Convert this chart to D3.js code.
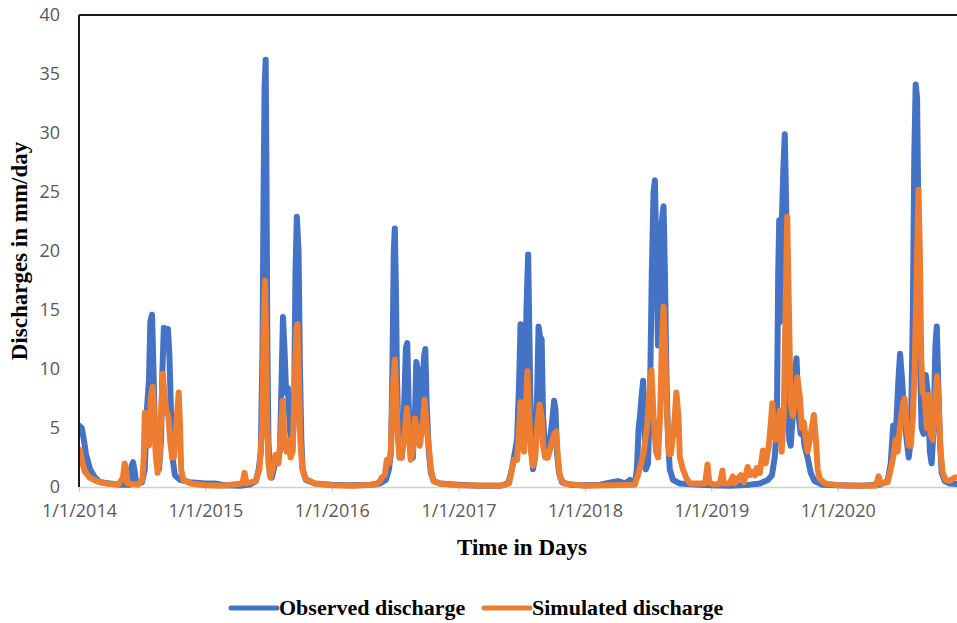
<!DOCTYPE html>
<html>
<head>
<meta charset="utf-8">
<script src="https://cdn.jsdelivr.net/npm/d3@7"></script>
<style>
  html, body { margin: 0; padding: 0; background: #ffffff; }
  svg { display: block; }
</style>
</head>
<body>
<svg id="chart" width="957" height="623"></svg>
<script>
// Daily discharge, observed vs simulated (mm/day)
const observed = [
  ["2014-01-01",5.2],["2014-01-09",5.0],["2014-01-15",4.0],["2014-01-21",2.8],["2014-02-02",1.5],
  ["2014-02-16",0.8],["2014-03-03",0.4],["2014-03-31",0.3],["2014-04-29",0.2],["2014-05-28",0.2],
  ["2014-06-02",1.8],["2014-06-06",2.1],["2014-06-10",1.5],["2014-06-15",0.3],["2014-07-02",0.4],
  ["2014-07-10",1.5],["2014-07-16",6.5],["2014-07-22",9],["2014-07-26",14],["2014-07-31",14.6],
  ["2014-08-04",10],["2014-08-08",5],["2014-08-14",2],["2014-08-20",1.5],["2014-08-26",4],
  ["2014-08-30",10],["2014-09-03",13.5],["2014-09-09",13.0],["2014-09-15",13.4],["2014-09-19",11.2],
  ["2014-09-24",6],["2014-09-28",2.5],["2014-10-05",1.0],["2014-10-20",0.6],["2014-11-17",0.4],
  ["2015-01-01",0.3],["2015-01-28",0.3],["2015-02-26",0.15],["2015-04-11",0.1],["2015-05-09",0.2],
  ["2015-05-27",0.5],["2015-06-04",1.5],["2015-06-10",3],["2015-06-15",12],["2015-06-18",25],
  ["2015-06-21",34],["2015-06-24",36.2],["2015-06-26",28],["2015-06-29",12],["2015-07-02",4],
  ["2015-07-06",1],["2015-07-12",0.8],["2015-07-21",2],["2015-07-29",2.5],["2015-08-04",3],
  ["2015-08-09",9],["2015-08-13",14.4],["2015-08-17",12],["2015-08-22",8],["2015-08-27",8.4],
  ["2015-09-02",5],["2015-09-08",3],["2015-09-14",6],["2015-09-18",18],["2015-09-22",22.9],
  ["2015-09-27",20],["2015-10-01",10],["2015-10-05",4],["2015-10-09",1.5],["2015-10-18",0.6],
  ["2015-11-13",0.3],["2016-01-01",0.2],["2016-02-22",0.15],["2016-04-20",0.2],["2016-05-19",0.3],
  ["2016-06-05",0.6],["2016-06-14",1.5],["2016-06-20",3],["2016-06-24",10],["2016-06-28",20],
  ["2016-07-01",21.9],["2016-07-04",17],["2016-07-07",9.5],["2016-07-11",5],["2016-07-15",2.5],
  ["2016-07-21",2.5],["2016-07-27",6],["2016-08-02",11.8],["2016-08-06",12.2],["2016-08-10",7],
  ["2016-08-16",2.5],["2016-08-22",2.5],["2016-08-28",6],["2016-09-01",10.6],["2016-09-05",10],
  ["2016-09-11",5],["2016-09-17",6],["2016-09-23",11.0],["2016-09-27",11.7],["2016-10-01",7],
  ["2016-10-07",3],["2016-10-13",1.2],["2016-10-21",0.5],["2016-11-08",0.3],["2017-01-01",0.2],
  ["2017-03-04",0.1],["2017-05-01",0.1],["2017-05-24",0.3],["2017-06-02",1.2],["2017-06-10",2.5],
  ["2017-06-19",4],["2017-06-25",9],["2017-06-29",13.8],["2017-07-03",11],["2017-07-08",5],
  ["2017-07-12",6],["2017-07-16",15],["2017-07-21",19.7],["2017-07-25",12],["2017-07-29",4],
  ["2017-08-04",1.5],["2017-08-10",2.5],["2017-08-16",8],["2017-08-20",13.6],["2017-08-24",12.8],
  ["2017-08-29",12.5],["2017-09-02",6],["2017-09-08",3],["2017-09-13",2.5],["2017-09-22",4],
  ["2017-09-28",5.5],["2017-10-04",7.3],["2017-10-08",6.5],["2017-10-12",3],["2017-10-18",1.2],
  ["2017-10-27",0.4],["2017-11-19",0.2],["2018-01-01",0.15],["2018-02-13",0.2],["2018-03-20",0.4],
  ["2018-04-06",0.5],["2018-04-27",0.3],["2018-05-11",0.6],["2018-05-25",0.3],["2018-05-31",1.5],
  ["2018-06-05",5],["2018-06-09",6],["2018-06-13",7.5],["2018-06-18",9],["2018-06-22",5],
  ["2018-06-26",1.5],["2018-07-02",2],["2018-07-08",8],["2018-07-13",18],["2018-07-18",25],
  ["2018-07-22",26],["2018-07-26",20],["2018-07-31",12],["2018-08-06",15],["2018-08-10",22.3],
  ["2018-08-16",23.8],["2018-08-20",18],["2018-08-24",10],["2018-08-29",4],["2018-09-03",1.5],
  ["2018-09-12",0.6],["2018-10-02",0.3],["2018-11-29",0.2],["2019-01-01",0.15],["2019-02-23",0.1],
  ["2019-04-22",0.2],["2019-05-21",0.3],["2019-06-13",0.6],["2019-06-25",1.0],["2019-07-03",2.5],
  ["2019-07-09",5],["2019-07-13",18],["2019-07-16",22.6],["2019-07-19",14],["2019-07-23",22],
  ["2019-07-28",27],["2019-08-01",29.9],["2019-08-05",24],["2019-08-09",10],["2019-08-14",4],
  ["2019-08-18",3.5],["2019-08-24",6],["2019-08-30",9.5],["2019-09-04",10.9],["2019-09-10",6],
  ["2019-09-16",4.5],["2019-09-22",5],["2019-09-27",3.5],["2019-10-06",2.5],["2019-10-15",1.2],
  ["2019-10-26",0.5],["2019-11-16",0.2],["2020-01-01",0.15],["2020-03-05",0.1],["2020-05-01",0.2],
  ["2020-05-24",0.5],["2020-06-02",2],["2020-06-09",5.2],["2020-06-16",4],["2020-06-24",9],
  ["2020-06-29",11.3],["2020-07-05",9],["2020-07-11",6],["2020-07-18",4],["2020-07-24",2.5],
  ["2020-07-30",4],["2020-08-05",15],["2020-08-09",28],["2020-08-13",34.1],["2020-08-17",33],
  ["2020-08-22",20],["2020-08-26",9.9],["2020-08-30",5],["2020-09-05",4.5],["2020-09-11",9.5],
  ["2020-09-17",8],["2020-09-23",3],["2020-09-28",2],["2020-10-04",5],["2020-10-09",12],
  ["2020-10-13",13.6],["2020-10-17",9],["2020-10-22",4],["2020-10-27",1.2],["2020-11-05",0.5],
  ["2020-11-19",0.3],["2020-12-31",0.2]
];

const simulated = [
  ["2014-01-01",3.2],["2014-01-05",3.0],["2014-01-11",2.0],["2014-01-18",1.3],["2014-02-01",0.8],
  ["2014-02-20",0.5],["2014-03-20",0.3],["2014-04-25",0.2],["2014-05-08",0.8],["2014-05-13",2.0],
  ["2014-05-17",1.5],["2014-05-21",0.3],["2014-06-20",0.2],["2014-07-03",0.6],["2014-07-07",2.5],
  ["2014-07-10",6.3],["2014-07-14",6.0],["2014-07-18",4.0],["2014-07-22",3.5],["2014-07-27",7.5],
  ["2014-08-02",8.5],["2014-08-06",6],["2014-08-10",3],["2014-08-16",1.2],["2014-08-22",2.5],
  ["2014-08-27",7],["2014-08-31",9.6],["2014-09-04",8],["2014-09-10",6.5],["2014-09-16",6.0],
  ["2014-09-21",4],["2014-09-27",2.5],["2014-10-02",2.5],["2014-10-08",5],["2014-10-16",8.0],
  ["2014-10-20",5],["2014-10-23",1.5],["2014-10-29",0.6],["2014-11-20",0.3],["2014-12-31",0.15],
  ["2015-02-15",0.1],["2015-04-18",0.3],["2015-04-24",1.2],["2015-04-30",0.3],["2015-05-26",0.5],
  ["2015-06-06",1.5],["2015-06-14",5],["2015-06-18",13],["2015-06-22",17.5],["2015-06-25",13],
  ["2015-06-28",6],["2015-07-02",2],["2015-07-08",0.8],["2015-07-14",1.5],["2015-07-22",2.7],
  ["2015-07-31",2],["2015-08-06",4],["2015-08-12",7.3],["2015-08-17",4],["2015-08-23",3],
  ["2015-08-29",4],["2015-09-04",2.5],["2015-09-10",3],["2015-09-15",8],["2015-09-21",13.5],
  ["2015-09-24",13.8],["2015-09-28",9],["2015-10-02",4],["2015-10-08",1.5],["2015-10-17",0.7],
  ["2015-11-12",0.3],["2015-12-31",0.15],["2016-03-01",0.1],["2016-05-07",0.2],["2016-05-19",0.5],
  ["2016-05-24",0.8],["2016-06-02",1.0],["2016-06-08",2.3],["2016-06-14",2.0],["2016-06-19",3],
  ["2016-06-25",8],["2016-07-01",10.8],["2016-07-05",8],["2016-07-10",4],["2016-07-15",2.5],
  ["2016-07-21",2.5],["2016-07-27",4],["2016-08-05",6.7],["2016-08-10",4.5],["2016-08-16",2.3],
  ["2016-08-22",3],["2016-08-28",5.8],["2016-09-05",4.5],["2016-09-11",3.5],["2016-09-20",5.5],
  ["2016-09-25",7.4],["2016-10-01",5],["2016-10-07",3.5],["2016-10-13",1.5],["2016-10-21",0.5],
  ["2016-11-08",0.3],["2016-12-31",0.15],["2017-05-01",0.1],["2017-05-27",0.3],["2017-06-04",1.5],
  ["2017-06-10",2.3],["2017-06-19",2.3],["2017-06-25",5],["2017-06-29",7.2],["2017-07-03",4],
  ["2017-07-09",3],["2017-07-15",7],["2017-07-19",9.8],["2017-07-24",6],["2017-07-29",3],
  ["2017-08-04",1.8],["2017-08-10",2.5],["2017-08-16",5],["2017-08-23",7.0],["2017-08-29",6],
  ["2017-09-02",3.5],["2017-09-08",2.5],["2017-09-16",2.5],["2017-09-25",3.5],["2017-10-04",4.5],
  ["2017-10-10",4.7],["2017-10-15",2.5],["2017-10-21",0.8],["2017-11-02",0.3],["2017-12-31",0.1],
  ["2018-05-25",0.2],["2018-06-03",1],["2018-06-12",2],["2018-06-20",3],["2018-06-29",5],
  ["2018-07-06",8],["2018-07-12",9.9],["2018-07-18",6],["2018-07-25",3],["2018-07-31",2.5],
  ["2018-08-06",6],["2018-08-11",12],["2018-08-16",15.3],["2018-08-20",12],["2018-08-26",6],
  ["2018-09-01",2.8],["2018-09-06",2.8],["2018-09-15",5],["2018-09-22",8.0],["2018-09-28",6],
  ["2018-10-02",2.5],["2018-10-11",1.5],["2018-10-20",0.8],["2018-10-31",0.3],["2018-11-29",0.3],
  ["2018-12-14",0.3],["2018-12-21",1.9],["2018-12-26",0.4],["2019-01-08",0.2],["2019-01-26",0.3],
  ["2019-02-02",1.4],["2019-02-06",0.3],["2019-02-23",0.3],["2019-03-04",0.9],["2019-03-10",0.3],
  ["2019-03-21",0.8],["2019-03-27",1.0],["2019-04-05",0.4],["2019-04-16",1.7],["2019-04-22",1.0],
  ["2019-04-28",1.3],["2019-05-07",1.0],["2019-05-12",1.6],["2019-05-21",1.2],["2019-05-30",3.1],
  ["2019-06-07",2.0],["2019-06-16",3.5],["2019-06-22",5.5],["2019-06-26",7.1],["2019-06-30",5],
  ["2019-07-06",4],["2019-07-12",5.5],["2019-07-18",6.5],["2019-07-23",3],["2019-07-29",6],
  ["2019-08-04",16],["2019-08-08",22.9],["2019-08-13",15],["2019-08-18",7],["2019-08-24",6],
  ["2019-08-30",7],["2019-09-06",9.3],["2019-09-14",7.5],["2019-09-19",5],["2019-09-25",5.5],
  ["2019-10-01",4],["2019-10-06",3],["2019-10-12",4],["2019-10-18",5],["2019-10-24",6.1],
  ["2019-10-30",4],["2019-11-04",1.5],["2019-11-10",0.7],["2019-11-25",0.3],["2020-01-01",0.15],
  ["2020-03-05",0.1],["2020-04-20",0.1],["2020-04-28",0.9],["2020-05-04",0.3],["2020-05-24",0.4],
  ["2020-06-02",1.5],["2020-06-09",2.5],["2020-06-16",4],["2020-06-22",3],["2020-06-28",5],
  ["2020-07-07",7],["2020-07-12",7.5],["2020-07-18",5],["2020-07-24",3.5],["2020-07-30",3.5],
  ["2020-08-05",6],["2020-08-10",10],["2020-08-16",18],["2020-08-21",25.2],["2020-08-25",20],
  ["2020-08-29",11],["2020-09-02",8.0],["2020-09-08",7.8],["2020-09-14",5],["2020-09-20",7.8],
  ["2020-09-25",4.5],["2020-10-01",4],["2020-10-07",7],["2020-10-14",9.4],["2020-10-20",6],
  ["2020-10-24",3],["2020-10-30",1.2],["2020-11-08",0.6],["2020-11-19",0.5],["2020-12-04",0.8],
  ["2020-12-31",0.8]
];

const yTicks = [0, 5, 10, 15, 20, 25, 30, 35, 40];
const xTickDates = ["2014-01-01","2015-01-01","2016-01-01","2017-01-01","2018-01-01","2019-01-01","2020-01-01"];
const seriesNames = ["Observed discharge", "Simulated discharge"];
const seriesColors = ["#4472C4", "#ED7D31"];

const parse = d3.utcParse("%Y-%m-%d");
const fmt = d => `${d.getUTCMonth() + 1}/${d.getUTCDate()}/${d.getUTCFullYear()}`;

const svg = d3.select("#chart");
const margin = { left: 79, top: 15, bottom: 487 };

const x = d3.scaleUtc()
  .domain([parse("2014-01-01"), parse("2021-01-01")])
  .range([margin.left, 964.5]);
const y = d3.scaleLinear().domain([0, 40]).range([margin.bottom, margin.top]);

const labelFont = "'Open Sans', 'Noto Sans', sans-serif";
const titleFont = "'Liberation Serif', 'Times New Roman', serif";

// x axis: light baseline with year ticks
const xAxis = d3.axisBottom(x)
  .tickValues(xTickDates.map(parse))
  .tickFormat(fmt)
  .tickSizeInner(5).tickSizeOuter(0).tickPadding(12);
const gx = svg.append("g").attr("transform", `translate(0,${margin.bottom})`).call(xAxis);
gx.select(".domain").attr("stroke", "#d0d0d0").attr("stroke-width", 1.5);
gx.selectAll(".tick line").attr("stroke", "#d0d0d0").attr("stroke-width", 1.2);
gx.selectAll(".tick text").attr("fill", "#595959").attr("font-family", labelFont).attr("font-size", 18);

// y axis: labels only
const yAxis = d3.axisLeft(y).tickValues(yTicks).tickSize(0).tickPadding(19);
const gy = svg.append("g").attr("transform", `translate(${margin.left},0)`).call(yAxis);
gy.select(".domain").remove();
gy.selectAll(".tick text").attr("fill", "#595959").attr("font-family", labelFont).attr("font-size", 18);

// series lines
const line = d3.line()
  .x(d => x(parse(d[0])))
  .y(d => y(d[1]));

svg.append("clipPath").attr("id", "plotclip")
  .append("rect").attr("x", margin.left).attr("y", 0).attr("width", 957 - margin.left).attr("height", margin.bottom + 4);

[observed, simulated].forEach((data, i) => {
  svg.append("path")
    .datum(data)
    .attr("clip-path", "url(#plotclip)")
    .attr("fill", "none")
    .attr("stroke", seriesColors[i])
    .attr("stroke-width", 6)
    .attr("stroke-linejoin", "round")
    .attr("stroke-linecap", "round")
    .attr("d", line);
});

// frame: left and top edges
svg.append("line").attr("x1", margin.left).attr("x2", margin.left)
  .attr("y1", margin.top).attr("y2", margin.bottom)
  .attr("stroke", "#1a1a1a").attr("stroke-width", 2);
svg.append("line").attr("x1", margin.left).attr("x2", 957)
  .attr("y1", margin.top).attr("y2", margin.top)
  .attr("stroke", "#1a1a1a").attr("stroke-width", 2);

// axis titles
svg.append("text")
  .attr("x", 522).attr("y", 555)
  .attr("text-anchor", "middle")
  .attr("font-family", titleFont).attr("font-weight", "bold").attr("font-size", 23)
  .attr("fill", "#000")
  .text("Time in Days");

svg.append("text")
  .attr("transform", `translate(27,${(margin.top + margin.bottom) / 2}) rotate(-90)`)
  .attr("text-anchor", "middle")
  .attr("font-family", titleFont).attr("font-weight", "bold").attr("font-size", 23)
  .attr("fill", "#000")
  .text("Discharges in mm/day");

// legend
const legendX = [229, 482];
seriesNames.forEach((name, i) => {
  const g = svg.append("g").attr("transform", `translate(${legendX[i]},608)`);
  g.append("line").attr("x1", 2).attr("x2", 48).attr("y1", 0).attr("y2", 0)
    .attr("stroke", seriesColors[i]).attr("stroke-width", 5).attr("stroke-linecap", "round");
  g.append("text").attr("x", 50).attr("y", 7)
    .attr("font-family", titleFont).attr("font-weight", "bold").attr("font-size", 22)
    .attr("fill", "#000")
    .text(name);
});
</script>
</body>
</html>
